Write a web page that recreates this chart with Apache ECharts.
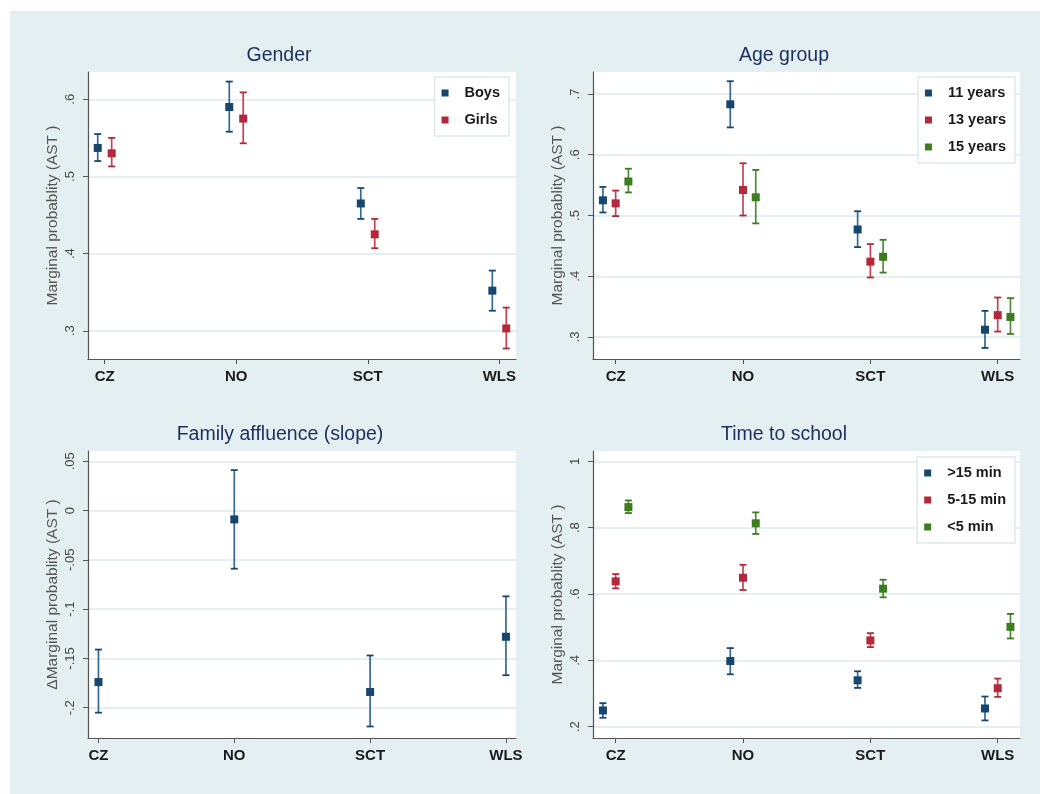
<!DOCTYPE html>
<html>
<head>
<meta charset="utf-8">
<script src="https://cdn.jsdelivr.net/npm/echarts@6/dist/echarts.min.js"></script>
<style>
  html, body { margin: 0; padding: 0; background: #fff; }
  #chart { width: 1040px; height: 794px; }
</style>
</head>
<body>
<div id="chart"></div>
<script>
// Countries on the x axis (positions 1..4)
var countries = ['CZ', 'NO', 'SCT', 'WLS'];

// Gender panel
var genderNames = ['Boys', 'Girls'];
var boysMean = [0.537, 0.590, 0.465, 0.352];
var boysLo   = [0.520, 0.558, 0.445, 0.326];
var boysHi   = [0.555, 0.623, 0.485, 0.378];
var girlsMean = [0.530, 0.575, 0.425, 0.303];
var girlsLo   = [0.513, 0.543, 0.407, 0.277];
var girlsHi   = [0.550, 0.609, 0.445, 0.330];
var genderTicks = [0.3, 0.4, 0.5, 0.6];

// Age group panel
var ageNames = ['11 years', '13 years', '15 years'];
var age11Mean = [0.525, 0.683, 0.477, 0.312];
var age11Lo   = [0.505, 0.645, 0.448, 0.282];
var age11Hi   = [0.547, 0.721, 0.507, 0.343];
var age13Mean = [0.520, 0.542, 0.424, 0.336];
var age13Lo   = [0.499, 0.500, 0.398, 0.309];
var age13Hi   = [0.541, 0.586, 0.453, 0.365];
var age15Mean = [0.556, 0.530, 0.432, 0.333];
var age15Lo   = [0.538, 0.487, 0.406, 0.305];
var age15Hi   = [0.577, 0.575, 0.460, 0.364];
var ageTicks = [0.3, 0.4, 0.5, 0.6, 0.7];

// Family affluence (slope) panel
var fasMean = [-0.174, -0.009, -0.184, -0.128];
var fasLo   = [-0.205, -0.059, -0.219, -0.167];
var fasHi   = [-0.141, 0.041, -0.147, -0.087];
var fasTicks = [-0.2, -0.15, -0.1, -0.05, 0, 0.05];

// Time to school panel
var timeNames = ['>15 min', '5-15 min', '<5 min'];
var far15Mean = [0.249, 0.398, 0.340, 0.255];
var far15Lo   = [0.227, 0.358, 0.317, 0.219];
var far15Hi   = [0.271, 0.437, 0.367, 0.291];
var mid515Mean = [0.638, 0.649, 0.460, 0.316];
var mid515Lo   = [0.617, 0.612, 0.440, 0.290];
var mid515Hi   = [0.660, 0.688, 0.482, 0.345];
var near5Mean = [0.862, 0.813, 0.616, 0.501];
var near5Lo   = [0.844, 0.781, 0.590, 0.466];
var near5Hi   = [0.882, 0.846, 0.643, 0.540];
var timeTicks = [0.2, 0.4, 0.6, 0.8, 1];

var BLUE = '#17466f', RED = '#b3283a', GREEN = '#3c7d20';
var BLUE_L = '#36698f', RED_L = '#c44452', GREEN_L = '#55893a';
var FONT = '"Liberation Sans", Arial, sans-serif';

function stataNum(v) {
	var s = String(Math.round(v * 1000) / 1000);
	return s.replace(/^(-?)0\./, '$1.');
}

function makeSeries(name, idx, mean, lo, hi, offset, color, lineColor) {
	var pts = [], bars = [];
	for (var i = 0; i < countries.length; i++) {
		pts.push([i + 1 + offset, mean[i]]);
		bars.push([i + 1 + offset, lo[i], hi[i]]);
	}
	return [
		{
			name: name + ' CI',
			type: 'custom',
			xAxisIndex: idx, yAxisIndex: idx,
			data: bars,
			z: 2,
			renderItem: function (params, api) {
				var top = api.coord([api.value(0), api.value(2)]);
				var bot = api.coord([api.value(0), api.value(1)]);
				var cap = { stroke: color, lineWidth: 1.8 };
				return {
					type: 'group',
					children: [
						{ type: 'line', shape: { x1: top[0], y1: top[1], x2: bot[0], y2: bot[1] }, style: { stroke: lineColor, lineWidth: 1.7 } },
						{ type: 'line', shape: { x1: top[0] - 3.5, y1: top[1], x2: top[0] + 3.5, y2: top[1] }, style: cap },
						{ type: 'line', shape: { x1: bot[0] - 3.5, y1: bot[1], x2: bot[0] + 3.5, y2: bot[1] }, style: cap }
					]
				};
			}
		},
		{
			name: name,
			type: 'scatter',
			xAxisIndex: idx, yAxisIndex: idx,
			symbol: 'rect',
			symbolSize: 8,
			itemStyle: { color: color, opacity: 1 },
			data: pts,
			z: 3
		}
	];
}

var grids = [
	{ left: 88, top: 72, width: 428, height: 287 },
	{ left: 593, top: 72, width: 427, height: 287 },
	{ left: 88, top: 451, width: 428, height: 287 },
	{ left: 593, top: 451, width: 427, height: 287 }
];
var xRanges = [[0.873, 4.127], [0.822, 4.175], [0.923, 4.074], [0.822, 4.175]];
var yRanges = [[0.2634, 0.6354], [0.2638, 0.7362], [-0.2307, 0.0604], [0.166, 1.031]];
var yTicks = [genderTicks, ageTicks, fasTicks, timeTicks];
var yNames = ['Marginal probablity (AST )', 'Marginal probablity (AST )', '\u0394Marginal probablity (AST )', 'Marginal probablity (AST )'];

var xAxes = [], yAxes = [];
grids.forEach(function (g, k) {
	g.show = true;
	g.backgroundColor = '#ffffff';
	g.borderWidth = 0;
	xAxes.push({
		type: 'value', gridIndex: k,
		min: xRanges[k][0], max: xRanges[k][1],
		axisLine: { show: true, onZero: false, lineStyle: { color: '#555', width: 1.2 } },
		axisTick: { show: true, length: 5, customValues: [1, 2, 3, 4], lineStyle: { color: '#555' } },
		axisLabel: {
			customValues: [1, 2, 3, 4], margin: 10,
			fontFamily: FONT, fontSize: 15, fontWeight: 'bold', color: '#1a1a1a',
			formatter: function (v) { return countries[Math.round(v) - 1]; }
		},
		splitLine: { show: false }
	});
	yAxes.push({
		type: 'value', gridIndex: k,
		min: yRanges[k][0], max: yRanges[k][1],
		name: yNames[k], nameLocation: 'middle', nameGap: 27,
		nameTextStyle: { fontFamily: FONT, fontSize: 15.5, color: '#555' },
		axisLine: { show: true, lineStyle: { color: '#555', width: 1.2 } },
		axisTick: { show: true, length: 5, customValues: yTicks[k], lineStyle: { color: '#555' } },
		axisLabel: {
			customValues: yTicks[k], rotate: 90, margin: 11,
			fontFamily: FONT, fontSize: 13, color: '#444',
			formatter: stataNum
		},
		splitLine: { show: true, lineStyle: { color: '#dce9ec', width: 1.5 } }
	});
});

var series = [].concat(
	makeSeries('Boys', 0, boysMean, boysLo, boysHi, -0.053, BLUE, BLUE_L),
	makeSeries('Girls', 0, girlsMean, girlsLo, girlsHi, 0.053, RED, RED_L),
	makeSeries('11 years', 1, age11Mean, age11Lo, age11Hi, -0.1, BLUE, BLUE_L),
	makeSeries('13 years', 1, age13Mean, age13Lo, age13Hi, 0, RED, RED_L),
	makeSeries('15 years', 1, age15Mean, age15Lo, age15Hi, 0.1, GREEN, GREEN_L),
	makeSeries('FAS', 2, fasMean, fasLo, fasHi, 0, BLUE, BLUE_L),
	makeSeries('>15 min', 3, far15Mean, far15Lo, far15Hi, -0.1, BLUE, BLUE_L),
	makeSeries('5-15 min', 3, mid515Mean, mid515Lo, mid515Hi, 0, RED, RED_L),
	makeSeries('<5 min', 3, near5Mean, near5Lo, near5Hi, 0.1, GREEN, GREEN_L)
);

function legendFor(names, right, top) {
	return {
		data: names,
		orient: 'vertical',
		right: right, top: top,
		padding: [7, 9, 7, 7],
		itemGap: 9,
		itemWidth: 7, itemHeight: 7,
		icon: 'rect',
		backgroundColor: '#ffffff',
		borderColor: '#dde9ec', borderWidth: 1.5,
		selectedMode: false,
		textStyle: { fontFamily: FONT, fontSize: 14.5, fontWeight: 'bold', color: '#1a1a1a', lineHeight: 18, padding: [0, 0, 0, 11] }
	};
}

function titleFor(text, x, y) {
	return {
		text: text, left: x, top: y, textAlign: 'center', padding: 0,
		textStyle: { fontFamily: FONT, fontSize: 19.5, fontWeight: 'normal', color: '#1c2e5c' }
	};
}

var chart = echarts.init(document.getElementById('chart'), null, { renderer: 'canvas' });
chart.setOption({
	animation: false,
	backgroundColor: '#ffffff',
	graphic: [{
		type: 'rect', left: 10, top: 11, z: -10,
		shape: { width: 1030, height: 783 },
		style: { fill: '#e4eff1' }
	}],
	title: [
		titleFor('Gender', 279, 46),
		titleFor('Age group', 784, 46),
		titleFor('Family affluence (slope)', 280, 425),
		titleFor('Time to school', 784, 425)
	],
	legend: [
		legendFor(genderNames, 531, 77),
		legendFor(ageNames, 25, 77),
		legendFor(timeNames, 25, 457)
	],
	grid: grids,
	xAxis: xAxes,
	yAxis: yAxes,
	series: series
});
</script>
</body>
</html>
